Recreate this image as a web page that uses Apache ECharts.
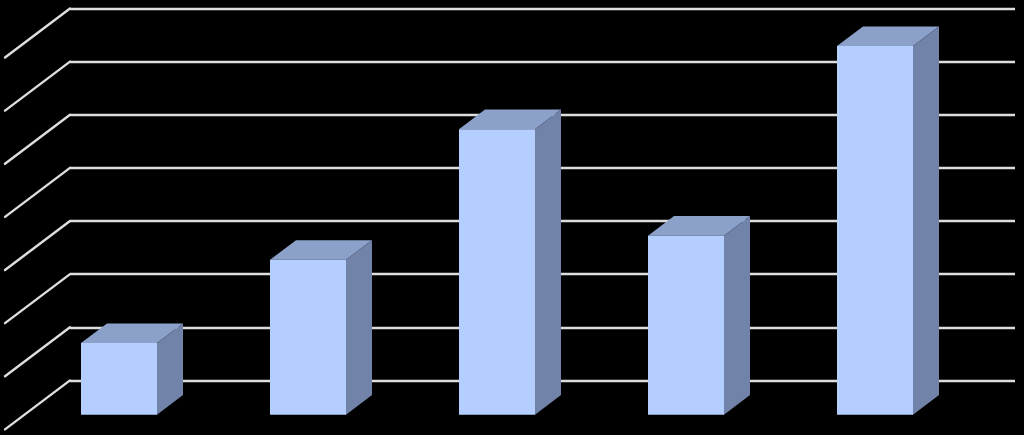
<!DOCTYPE html>
<html>
<head>
<meta charset="utf-8">
<style>html,body{margin:0;padding:0;background:#000}#c{width:1024px;height:435px}</style>
<script src="https://cdn.jsdelivr.net/npm/echarts@6/dist/echarts.min.js"></script>
</head>
<body>
<div id="c"></div>
<script>
const categories = ['A', 'B', 'C', 'D', 'E'];
const values = [1.35, 2.915, 5.375, 3.37, 6.94];
const gridTicks = [0, 1, 2, 3, 4, 5, 6, 7];

const FRONT = '#b3ceff', TOP = '#8ba1c9', SIDE = '#7283a9', LINE = '#dedede';
const DEPTH_X = 65, DEPTH_Y = 49;      // full floor depth of the 3D box
const NEAR = 0.7, FAR = 0.3;           // bar placement inside the depth
const BAR_W = 76;

const chart = echarts.init(document.getElementById('c'), null, {renderer: 'canvas'});
chart.setOption({
  animation: false,
  backgroundColor: '#000',
  grid: {left: 70, right: 9, top: 8.5, bottom: 54.6},
  xAxis: {type: 'category', data: categories, show: false},
  yAxis: {
    type: 'value', min: 0, max: 7, interval: 1,
    axisLine: {show: false}, axisTick: {show: false}, axisLabel: {show: false},
    splitLine: {show: true, lineStyle: {color: LINE, width: 2.4}}
  },
  series: [
    {
      type: 'custom', silent: true, z: 2, clip: false,
      data: gridTicks,
      renderItem(params, api) {
        const p = api.coord([0, api.value(0)]);
        const x0 = api.coord([0, 0])[0] - api.size([1, 0])[0] / 2;
        return {
          type: 'line',
          shape: {x1: x0, y1: p[1], x2: x0 - DEPTH_X, y2: p[1] + DEPTH_Y},
          style: {stroke: LINE, lineWidth: 2.4, lineCap: 'round'}
        };
      }
    },
    {
      type: 'custom', silent: true, z: 3, clip: false,
      encode: {x: 0, y: 1},
      data: values.map((v, i) => [i, v]),
      renderItem(params, api) {
        const top = api.coord([api.value(0), api.value(1)]);
        const base = api.coord([api.value(0), 0]);
        const l = top[0] - DEPTH_X * NEAR - BAR_W / 2;
        const r = l + BAR_W;
        const t = top[1] + DEPTH_Y * NEAR;
        const b = base[1] + DEPTH_Y * NEAR;
        const dx = DEPTH_X * (NEAR - FAR), dy = DEPTH_Y * (NEAR - FAR);
        return {
          type: 'group',
          children: [
            {type: 'polygon', shape: {points: [[l, t], [l + dx, t - dy], [r + dx, t - dy], [r, t]]}, style: {fill: TOP}},
            {type: 'polygon', shape: {points: [[r, t], [r + dx, t - dy], [r + dx, b - dy], [r, b]]}, style: {fill: SIDE}},
            {type: 'rect', shape: {x: l, y: t, width: BAR_W, height: b - t}, style: {fill: FRONT}}
          ]
        };
      }
    }
  ]
});
</script>
</body>
</html>
